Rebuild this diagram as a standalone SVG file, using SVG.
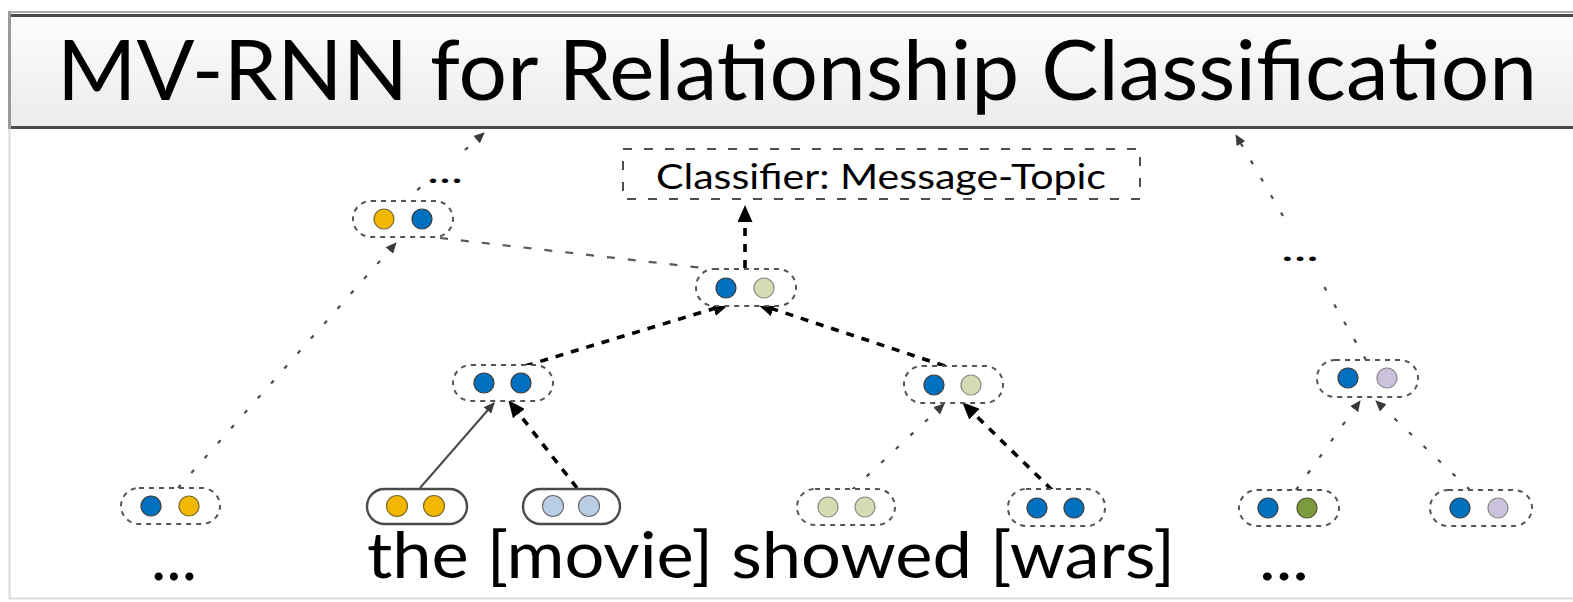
<svg xmlns="http://www.w3.org/2000/svg" width="1573" height="602" viewBox="0 0 1573 602">
  <style>
    .txt { font-family: Lato, "Open Sans", "Liberation Sans", sans-serif; fill: #000; }
    .cap { fill: #fff; stroke: #555; stroke-width: 2; stroke-dasharray: 5 5; }
    .capSolid { fill: #fff; stroke: #4a4a4a; stroke-width: 2.4; }
    .blue { fill: #0070c0; stroke: #3c3c3c; stroke-width: 1.2; }
    .yellow { fill: #f2b700; stroke: #7a6a28; stroke-width: 1.2; }
    .khaki { fill: #d4dcb4; stroke: #8a8a80; stroke-width: 1.2; }
    .lightblue { fill: #b9cde5; stroke: #6a6a6a; stroke-width: 1.2; }
    .lavender { fill: #ccc2db; stroke: #8a8a8a; stroke-width: 1.2; }
    .olive { fill: #7e9a3e; stroke: #4f5a30; stroke-width: 1.2; }
    .dotted { fill: none; stroke: #4a4a4a; stroke-width: 2.2; stroke-dasharray: 4 16; }
    .grayDash { fill: none; stroke: #5a5a5a; stroke-width: 2.2; stroke-dasharray: 8 13; }
    .thick { fill: none; stroke: #000; stroke-width: 3.6; stroke-dasharray: 8 8; }
    .solid { fill: none; stroke: #4a4a4a; stroke-width: 2; }
  </style>
  <defs>
    <linearGradient id="barGrad" x1="0" y1="0" x2="0" y2="1">
      <stop offset="0" stop-color="#fdfdfd"/>
      <stop offset="1" stop-color="#ebebeb"/>
    </linearGradient>
    <marker id="headBig" viewBox="0 0 17 15" refX="16" refY="7.5" markerWidth="17" markerHeight="15" markerUnits="userSpaceOnUse" orient="auto">
      <path d="M0,0 L17,7.5 L0,15 z" fill="#000"/>
    </marker>
    <marker id="headSmall" viewBox="0 0 11 10" refX="10" refY="5" markerWidth="11" markerHeight="10" markerUnits="userSpaceOnUse" orient="auto">
      <path d="M0,0 L11,5 L0,10 z" fill="#3a3a3a"/>
    </marker>
  </defs>

  <rect width="1573" height="602" fill="#fff"/>
  <!-- page frame -->
  <path d="M9.5,128 V598.5 H1573" fill="none" stroke="#dcdcdc" stroke-width="2"/>

  <!-- title bar -->
  <g id="title">
    <rect x="8" y="15" width="1565" height="113" fill="url(#barGrad)"/>
    <line x1="8" y1="12" x2="1573" y2="12" stroke="#aaaaaa" stroke-width="2"/>
    <line x1="8" y1="15.5" x2="1573" y2="15.5" stroke="#4a4a4a" stroke-width="3"/>
    <line x1="8" y1="127.5" x2="1573" y2="127.5" stroke="#4a4a4a" stroke-width="3"/>
    <line x1="9.5" y1="12" x2="9.5" y2="129" stroke="#9a9a9a" stroke-width="3"/>
    <text class="txt" x="57" y="100" font-size="84" textLength="1480" lengthAdjust="spacingAndGlyphs">MV-RNN for Relationship Classification</text>
  </g>

  <!-- connectors -->
  <g id="connectors">
    <line class="dotted" x1="178" y1="488" x2="396" y2="243" marker-end="url(#headSmall)"/>
    <line class="dotted" x1="402" y1="203" x2="422" y2="186"/>
    <line class="dotted" x1="465" y1="150" x2="484" y2="133" marker-end="url(#headSmall)"/>
    <line class="grayDash" x1="440" y1="238" x2="703" y2="268"/>
    <line class="thick" x1="745" y1="268" x2="745" y2="206" marker-end="url(#headBig)"/>
    <line class="thick" x1="525" y1="366" x2="729" y2="304" marker-end="url(#headBig)"/>
    <line class="thick" x1="945" y1="366" x2="758" y2="304" marker-end="url(#headBig)"/>
    <line class="solid" x1="420" y1="488" x2="494" y2="403" marker-end="url(#headSmall)"/>
    <line class="thick" x1="577" y1="488" x2="509" y2="401" marker-end="url(#headBig)"/>
    <line class="dotted" x1="852" y1="490" x2="944" y2="404" marker-end="url(#headSmall)"/>
    <line class="thick" x1="1052" y1="490" x2="963" y2="403" marker-end="url(#headBig)"/>
    <line class="dotted" x1="1296" y1="490" x2="1360" y2="401" marker-end="url(#headSmall)"/>
    <line class="dotted" x1="1470" y1="490" x2="1376" y2="401" marker-end="url(#headSmall)"/>
    <line class="dotted" x1="1366" y1="360" x2="1318" y2="276"/>
    <line class="dotted" x1="1283" y1="216" x2="1236" y2="135" marker-end="url(#headSmall)"/>
  </g>

  <!-- classifier -->
  <g id="classifier">
    <rect x="623" y="149" width="517" height="50" fill="#fff" stroke="#4f4f4f" stroke-width="2" stroke-dasharray="9 12"/>
    <text class="txt" x="656" y="189" font-size="35" textLength="450" lengthAdjust="spacingAndGlyphs" fill="#0a0a30">Classifier: Message-Topic</text>
  </g>

  <!-- upper tree nodes -->
  <g id="node-top-left">
    <rect class="cap" x="353" y="201" width="100" height="36" rx="18"/>
    <circle class="yellow" cx="384" cy="219" r="10"/>
    <circle class="blue" cx="422" cy="219" r="10"/>
  </g>
  <text class="txt" x="427" y="183" font-size="34" textLength="36" lengthAdjust="spacingAndGlyphs">...</text>

  <g id="node-root">
    <rect class="cap" x="696" y="269" width="100" height="37" rx="18"/>
    <circle class="blue" cx="726" cy="288" r="10"/>
    <circle class="khaki" cx="764" cy="288" r="10"/>
  </g>

  <g id="node-left-mid">
    <rect class="cap" x="453" y="365" width="100" height="36" rx="18"/>
    <circle class="blue" cx="484" cy="383" r="10"/>
    <circle class="blue" cx="521" cy="383" r="10"/>
  </g>

  <g id="node-right-mid">
    <rect class="cap" x="904" y="366" width="99" height="37" rx="18"/>
    <circle class="blue" cx="934" cy="385" r="10"/>
    <circle class="khaki" cx="971" cy="385" r="10"/>
  </g>

  <g id="node-right">
    <rect class="cap" x="1317" y="360" width="101" height="37" rx="18"/>
    <circle class="blue" cx="1348" cy="378" r="10"/>
    <circle class="lavender" cx="1387" cy="378" r="10"/>
  </g>
  <text class="txt" x="1281" y="261" font-size="34" textLength="38" lengthAdjust="spacingAndGlyphs">...</text>

  <!-- word-level nodes -->
  <g id="leaf-1">
    <rect class="cap" x="121" y="488" width="99" height="36" rx="18"/>
    <circle class="blue" cx="151" cy="506" r="10"/>
    <circle class="yellow" cx="189" cy="506" r="10"/>
  </g>
  <g id="leaf-movie">
    <rect class="capSolid" x="367" y="489" width="100" height="35" rx="17.5"/>
    <circle class="yellow" cx="397" cy="506" r="10.5"/>
    <circle class="yellow" cx="434" cy="506" r="10.5"/>
  </g>
  <g id="leaf-3">
    <rect class="capSolid" x="523" y="489" width="97" height="35" rx="17.5"/>
    <circle class="lightblue" cx="553" cy="506" r="10.5"/>
    <circle class="lightblue" cx="589" cy="506" r="10.5"/>
  </g>
  <g id="leaf-showed">
    <rect class="cap" x="797" y="489" width="98" height="36" rx="18"/>
    <circle class="khaki" cx="828" cy="507" r="10"/>
    <circle class="khaki" cx="865" cy="507" r="10"/>
  </g>
  <g id="leaf-wars">
    <rect class="cap" x="1008" y="489" width="97" height="37" rx="18"/>
    <circle class="blue" cx="1037" cy="508" r="10"/>
    <circle class="blue" cx="1074" cy="508" r="10"/>
  </g>
  <g id="leaf-6">
    <rect class="cap" x="1239" y="490" width="100" height="36" rx="18"/>
    <circle class="blue" cx="1268" cy="508" r="10"/>
    <circle class="olive" cx="1307" cy="508" r="10"/>
  </g>
  <g id="leaf-7">
    <rect class="cap" x="1430" y="490" width="102" height="36" rx="18"/>
    <circle class="blue" cx="1460" cy="508" r="10"/>
    <circle class="lavender" cx="1498" cy="508" r="10"/>
  </g>

  <!-- sentence -->
  <text class="txt" x="151" y="580" font-size="64" textLength="46" lengthAdjust="spacingAndGlyphs">...</text>
  <text class="txt" x="367" y="578" font-size="64" textLength="808" lengthAdjust="spacingAndGlyphs">the [movie] showed [wars]</text>
  <text class="txt" x="1259" y="580" font-size="64" textLength="50" lengthAdjust="spacingAndGlyphs">...</text>
</svg>
